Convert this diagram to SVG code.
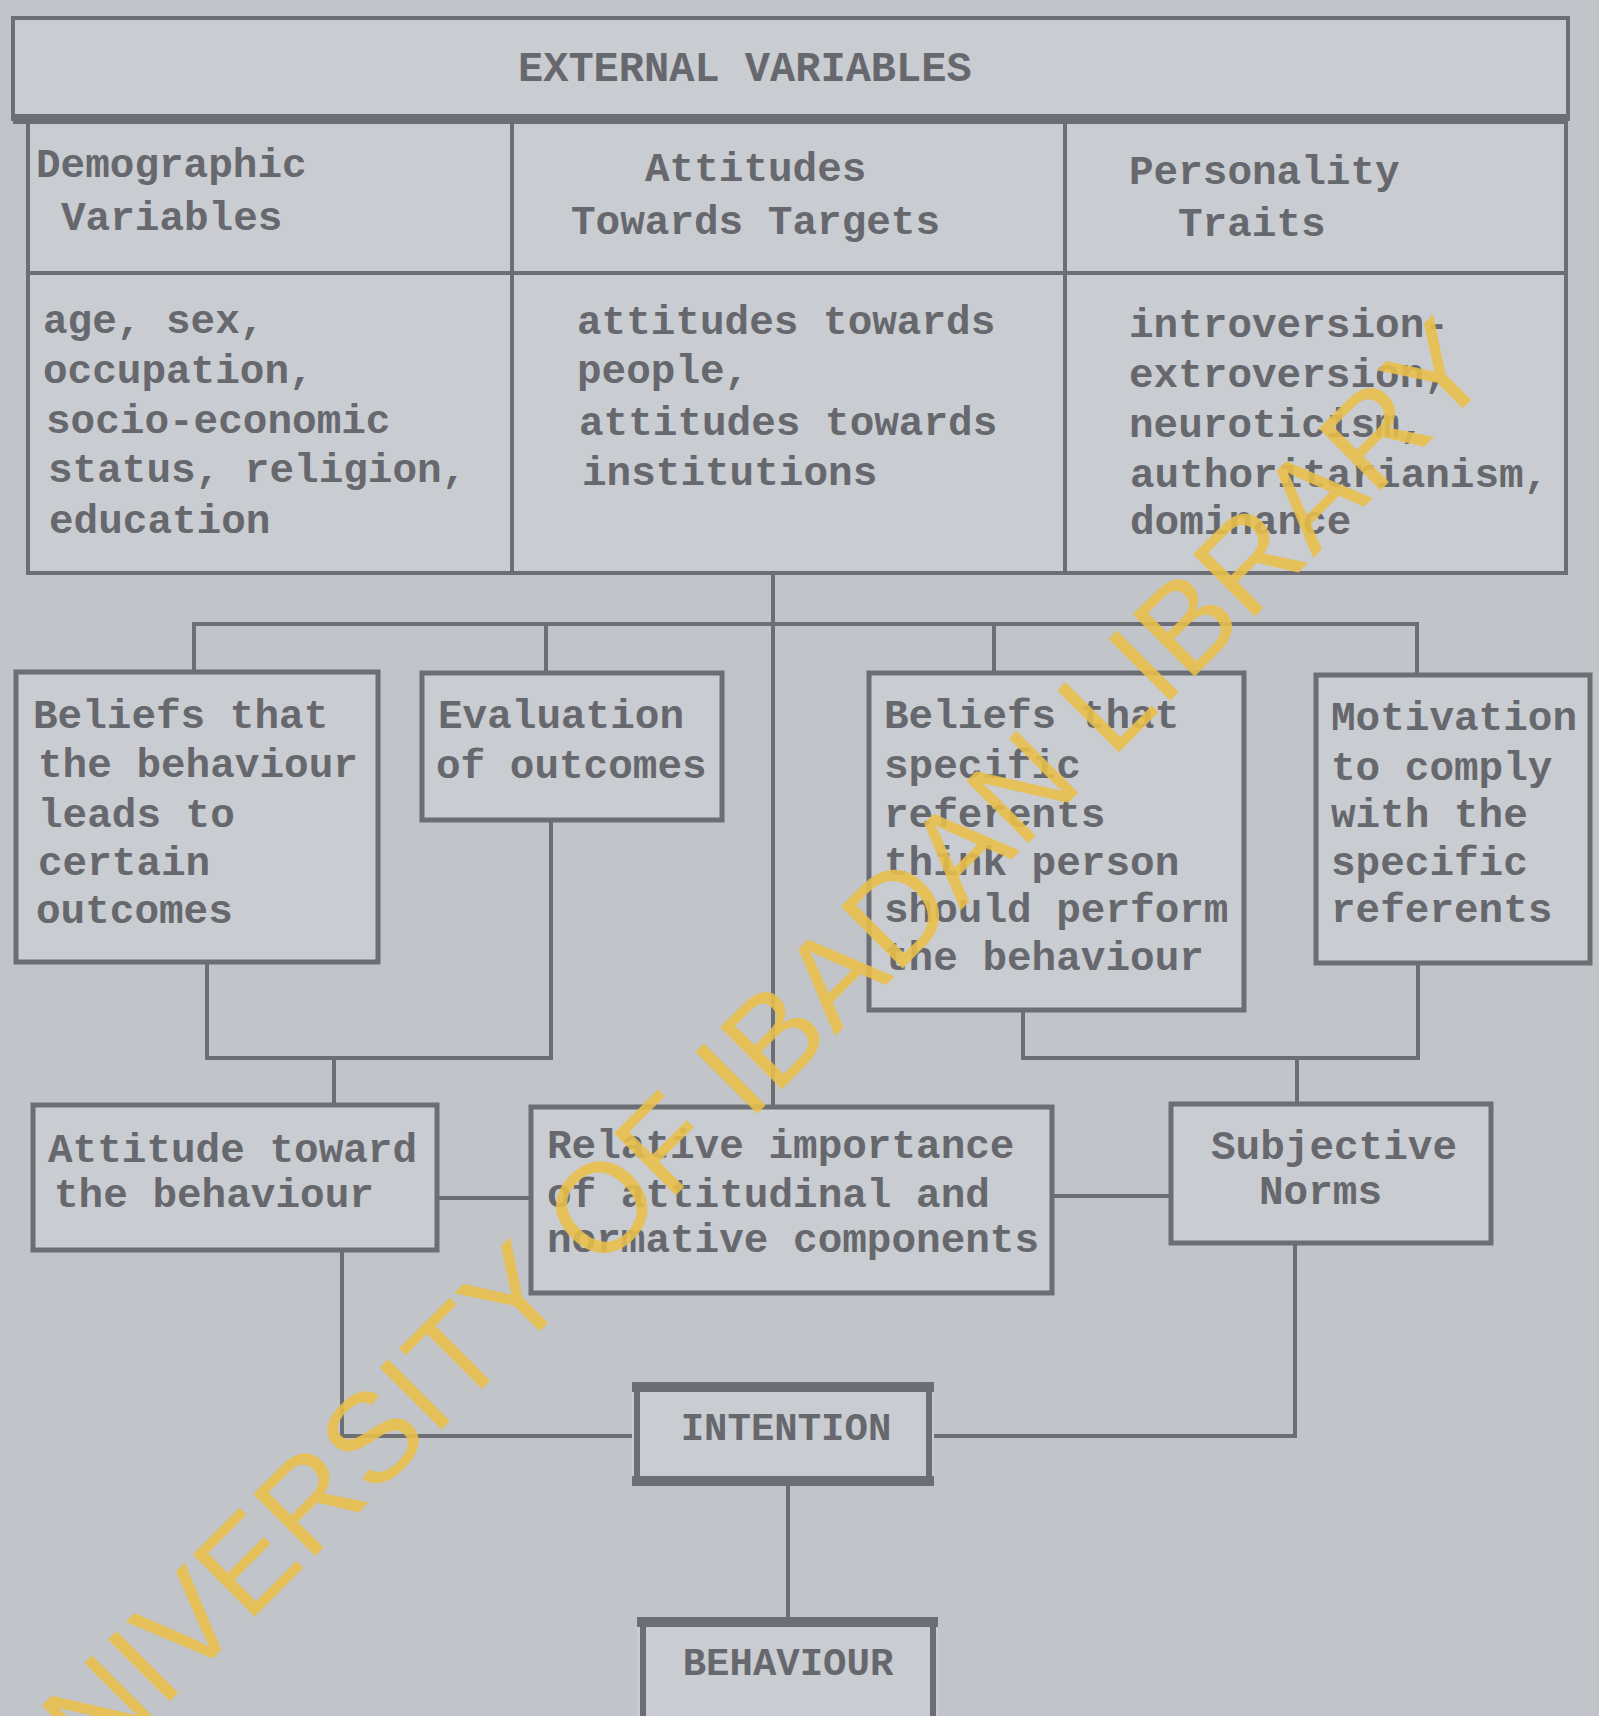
<svg xmlns="http://www.w3.org/2000/svg" width="1599" height="1716" viewBox="0 0 1599 1716">
<style>
  .bg { fill: #c1c5ca; }
  .cell { fill: #c9ccd0; stroke: #6c6e74; stroke-width: 4; }
  .box { fill: #c9ccd0; stroke: #6c6e74; stroke-width: 5; }
  .thick { stroke: #6c6e74; stroke-width: 10; fill: none; }
  .side { stroke: #6c6e74; stroke-width: 6; fill: none; }
  .line { stroke: #6c6e74; stroke-width: 4; fill: none; }
  .conn { stroke: #6c6e74; stroke-width: 4; fill: none; stroke-linejoin: miter; }
  text { font-family: "Liberation Mono", "DejaVu Sans Mono", monospace; font-weight: bold; font-size: 41px; fill: #66686e; }
  .big { font-size: 42px; }
  .mid { font-size: 39px; text-anchor: middle; }
  .wm { font-family: "Liberation Sans", Arial, sans-serif; font-weight: normal; font-size: 127px; fill: #eac04a; opacity: 0.88; }
</style>
<rect class="bg" x="0" y="0" width="1599" height="1716"/>

<g id="external-variables">
  <rect class="cell" x="13" y="18" width="1555" height="101"/>
  <text class="big" x="518" y="81">EXTERNAL VARIABLES</text>
</g>

<g id="table">
  <rect class="cell" x="28" y="119" width="1538" height="454"/>
  <line class="thick" x1="13" y1="119" x2="1568" y2="119"/>
  <line class="line" x1="28" y1="273" x2="1566" y2="273"/>
  <line class="line" x1="512" y1="119" x2="512" y2="573"/>
  <line class="line" x1="1065" y1="119" x2="1065" y2="573"/>
</g>

<g id="demographic-variables">
  <text x="36" y="177">Demographic</text>
  <text x="61" y="230">Variables</text>
  <text x="43" y="333">age, sex,</text>
  <text x="43" y="383">occupation,</text>
  <text x="46" y="433">socio-economic</text>
  <text x="48" y="482">status, religion,</text>
  <text x="49" y="533">education</text>
</g>

<g id="attitudes-towards-targets">
  <text x="645" y="181">Attitudes</text>
  <text x="571" y="234">Towards Targets</text>
  <text x="577" y="334">attitudes towards</text>
  <text x="577" y="383">people,</text>
  <text x="579" y="435">attitudes towards</text>
  <text x="582" y="485">institutions</text>
</g>

<g id="personality-traits">
  <text x="1129" y="184">Personality</text>
  <text x="1178" y="236">Traits</text>
  <text x="1129" y="337">introversion-</text>
  <text x="1129" y="387">extroversion,</text>
  <text x="1129" y="437">neuroticism,</text>
  <text x="1130" y="487">authoritarianism,</text>
  <text x="1130" y="534">dominance</text>
</g>

<g id="connectors">
  <polyline class="conn" points="773,573 773,1106"/>
  <polyline class="conn" points="194,672 194,624 1417,624 1417,675"/>
  <line class="conn" x1="546" y1="624" x2="546" y2="673"/>
  <line class="conn" x1="994" y1="624" x2="994" y2="673"/>
  <polyline class="conn" points="207,962 207,1058 551,1058 551,820"/>
  <line class="conn" x1="334" y1="1058" x2="334" y2="1105"/>
  <polyline class="conn" points="1023,1010 1023,1058 1418,1058 1418,963"/>
  <line class="conn" x1="1297" y1="1058" x2="1297" y2="1103"/>
  <line class="conn" x1="437" y1="1198" x2="531" y2="1198"/>
  <line class="conn" x1="1052" y1="1196" x2="1171" y2="1196"/>
  <polyline class="conn" points="342,1250 342,1436 632,1436"/>
  <polyline class="conn" points="1295,1243 1295,1436 934,1436"/>
  <line class="conn" x1="788" y1="1486" x2="788" y2="1617"/>
</g>

<g id="beliefs-outcomes">
  <rect class="box" x="16" y="672" width="362" height="290"/>
  <text x="33" y="728">Beliefs that</text>
  <text x="38" y="777">the behaviour</text>
  <text x="38" y="827">leads to</text>
  <text x="38" y="875">certain</text>
  <text x="36" y="923">outcomes</text>
</g>

<g id="evaluation-outcomes">
  <rect class="box" x="422" y="673" width="300" height="147"/>
  <text x="438" y="728">Evaluation</text>
  <text x="436" y="778">of outcomes</text>
</g>

<g id="beliefs-referents">
  <rect class="box" x="869" y="673" width="375" height="337"/>
  <text x="884" y="728">Beliefs that</text>
  <text x="884" y="778">specific</text>
  <text x="884" y="827">referents</text>
  <text x="884" y="875">think person</text>
  <text x="884" y="922">should perform</text>
  <text x="884" y="970">the behaviour</text>
</g>

<g id="motivation-comply">
  <rect class="box" x="1316" y="675" width="274" height="288"/>
  <text x="1331" y="730">Motivation</text>
  <text x="1331" y="780">to comply</text>
  <text x="1331" y="827">with the</text>
  <text x="1331" y="875">specific</text>
  <text x="1331" y="922">referents</text>
</g>

<g id="attitude-behaviour">
  <rect class="box" x="33" y="1105" width="404" height="145"/>
  <text x="48" y="1162">Attitude toward</text>
  <text x="54" y="1207">the behaviour</text>
</g>

<g id="relative-importance">
  <rect class="box" x="531" y="1107" width="521" height="186"/>
  <text x="547" y="1158">Relative importance</text>
  <text x="547" y="1207">of attitudinal and</text>
  <text x="547" y="1252">normative components</text>
</g>

<g id="subjective-norms">
  <rect class="box" x="1171" y="1104" width="320" height="139"/>
  <text x="1211" y="1159">Subjective</text>
  <text x="1259" y="1204">Norms</text>
</g>

<g id="intention">
  <rect x="632" y="1382" width="302" height="104" fill="#c9ccd0"/>
  <line class="thick" x1="632" y1="1387" x2="934" y2="1387"/>
  <line class="thick" x1="632" y1="1481" x2="934" y2="1481"/>
  <line class="side" x1="637" y1="1382" x2="637" y2="1486"/>
  <line class="side" x1="929" y1="1382" x2="929" y2="1486"/>
  <text class="mid" x="786" y="1440">INTENTION</text>
</g>

<g id="behaviour">
  <rect x="637" y="1617" width="301" height="110" fill="#c9ccd0"/>
  <line class="thick" x1="637" y1="1622" x2="938" y2="1622"/>
  <line class="side" x1="643" y1="1617" x2="643" y2="1716"/>
  <line class="side" x1="933" y1="1617" x2="933" y2="1716"/>
  <text class="mid" x="788" y="1675">BEHAVIOUR</text>
</g>

<text class="wm" x="31" y="1840" transform="rotate(-45 31 1840)" textLength="2073" lengthAdjust="spacing">UNIVERSITY OF IBADAN LIBRARY</text>
</svg>
